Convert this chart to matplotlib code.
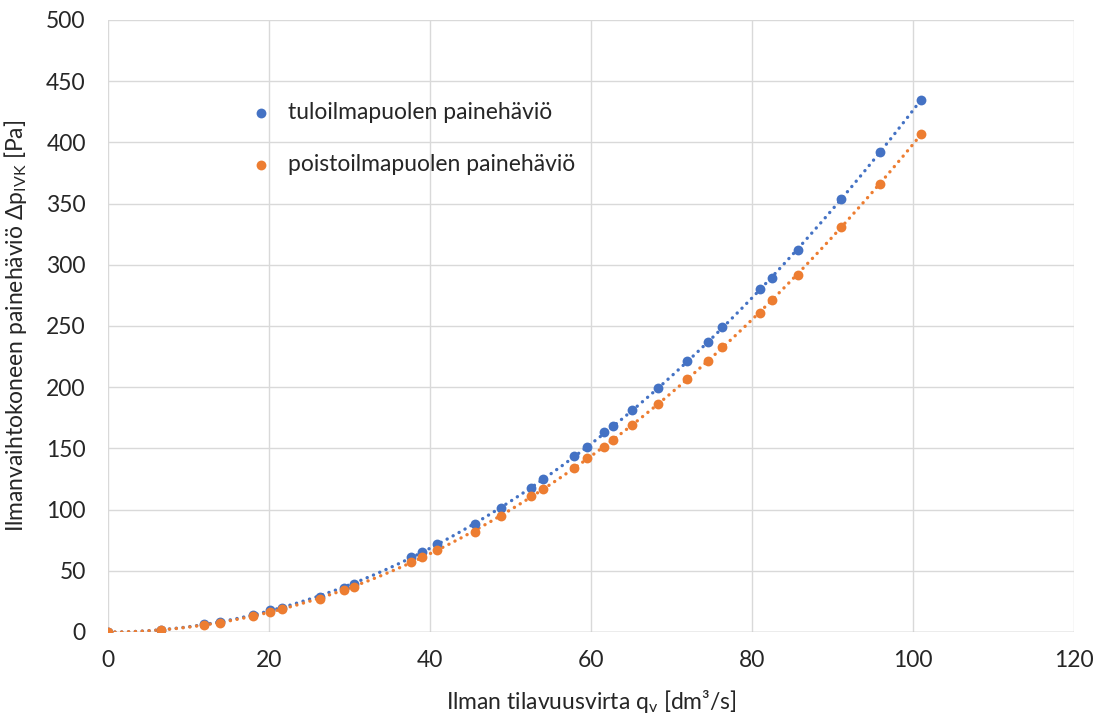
import numpy as np
import matplotlib
matplotlib.use("Agg")
import matplotlib.pyplot as plt

plt.rcParams['font.family'] = ['Lato', 'DejaVu Sans']

# ilman tilavuusvirta [dm3/s]
qv = [0, 6.6, 11.9, 13.9, 18.0, 20.1, 21.6, 26.3, 29.3, 30.6, 37.6, 39.0, 40.9,
      45.6, 48.8, 52.6, 54.0, 57.9, 59.5, 61.6, 62.7, 65.1, 68.3, 71.9, 74.5,
      76.3, 81.0, 82.5, 85.7, 91.1, 95.9, 101.0]
# tuloilmapuoli [Pa]
dp_tulo = [0, 2, 6.5, 8, 14, 18, 20, 29, 36, 39, 61, 65, 72,
           88, 101, 118, 125, 144, 151, 163, 168, 181, 199, 221, 237,
           249, 280, 289, 312, 354, 392, 435]
# poistoilmapuoli [Pa]
dp_poisto = [0, 2, 6, 7.5, 13, 16, 19, 27, 34, 37, 57, 61, 67,
             82, 95, 111, 117, 134, 142, 151, 157, 169, 186, 207, 221,
             233, 261, 271, 292, 331, 366, 407]

blue = '#4472C4'
orange = '#ED7D31'
txt = '#262626'
fs = 16.5

fig = plt.figure(figsize=(10.94, 7.13), dpi=100)
ax = fig.add_axes([108/1094, 1 - 632/713, (1074-108)/1094, (632-20)/713])

x = np.array(qv)
xx = np.linspace(0, max(qv), 300)
for y, c, lab in [(dp_tulo, blue, 'tuloilmapuolen painehäviö'),
                  (dp_poisto, orange, 'poistoilmapuolen painehäviö')]:
    p = np.polyfit(x, y, 2)
    ax.plot(xx, np.polyval(p, xx), color=c, lw=2.4, linestyle=(0, (0.05, 2.0)),
            dash_capstyle='round', solid_capstyle='round', zorder=2)
    ax.scatter(x, y, s=50, color=c, label=lab, zorder=3, linewidths=0)

ax.set_xlim(0, 120)
ax.set_ylim(0, 500)
ax.set_xticks(range(0, 121, 20))
ax.set_yticks(range(0, 501, 50))
ax.grid(True, color='#D9D9D9', lw=1)
ax.set_axisbelow(True)
for s in ax.spines.values():
    s.set_visible(False)
ax.axhline(0, color='#BFBFBF', lw=1, zorder=1)
ax.tick_params(length=0, labelsize=fs, colors=txt)
ax.tick_params(axis='y', pad=16)
ax.tick_params(axis='x', pad=13)

ax.set_xlabel(r'Ilman tilavuusvirta q$_\mathregular{v}$ [dm³/s]', fontsize=fs,
              color=txt, labelpad=12)
ax.set_ylabel(r'Ilmanvaihtokoneen painehäviö Δp$_\mathregular{IVK}$ [Pa]', fontsize=fs,
              color=txt, labelpad=12)

ax.legend(loc='upper left', bbox_to_anchor=(0.113, 0.90), frameon=False,
          fontsize=fs, labelspacing=1.38, handletextpad=0.2, scatterpoints=1,
          labelcolor=txt)

fig.savefig('out.png', dpi=100)
